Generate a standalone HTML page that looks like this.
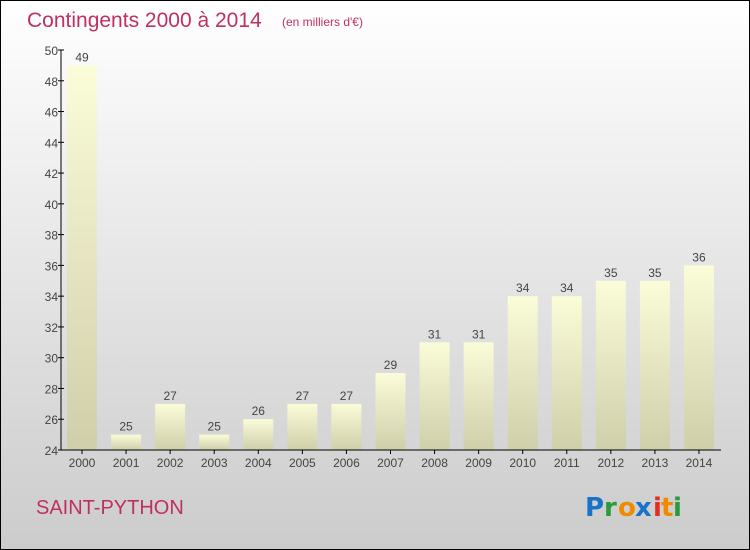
<!DOCTYPE html>
<html><head><meta charset="utf-8"><style>
body{margin:0;}
#wrap{position:relative;width:748px;height:548px;border:1px solid #000;background:linear-gradient(#ffffff,#f2f2f2 25%,#d8d8d8 75%,#cccccc);overflow:hidden;font-family:"Liberation Sans",sans-serif;}
</style></head><body>
<div id="wrap">
<svg width="748" height="548">
<defs><linearGradient id="bg" x1="0" y1="0" x2="0" y2="1"><stop offset="0" stop-color="#fbfcd8"/><stop offset="1" stop-color="#cfcfaa"/></linearGradient></defs>
<text x="26" y="26" font-size="21" fill="#c0305f">Contingents 2000 à 2014</text>
<text x="281" y="25" font-size="12" fill="#c0305f">(en milliers d'€)</text>
<text x="35" y="513" font-size="20" fill="#c0305f">SAINT-PYTHON</text>
<g font-size="26" font-weight="bold" font-family="'DejaVu Sans',sans-serif">
<text x="584" y="515" fill="#1a73c9">P</text><text x="603" y="515" fill="#2a9a3a">r</text><text x="617" y="515" fill="#f08a00">o</text><text x="634" y="515" fill="#1a73c9">x</text><text x="652" y="515" fill="#e03020">i</text><text x="660" y="515" fill="#f08a00">t</text><text x="672" y="515" fill="#2a9a3a">i</text></g>
<g id="plot"></g>
</svg></div>
<script>
const categories=["2000","2001","2002","2003","2004","2005","2006","2007","2008","2009","2010","2011","2012","2013","2014"];
const values=[49,25,27,25,26,27,27,29,31,31,34,34,35,35,36];
const yTicks=[24,26,28,30,32,34,36,38,40,42,44,46,48,50];
const ns="http://www.w3.org/2000/svg";
const g=document.getElementById('plot');
const y0=449,y1=49,vmin=24,vmax=50;
const y=v=>y0-(v-vmin)/(vmax-vmin)*(y0-y1);
const x=i=>81+i*44.07;
function mk(t,a){const e=document.createElementNS(ns,t);for(const k in a)e.setAttribute(k,a[k]);g.appendChild(e);return e;}
categories.forEach((c,i)=>{
const r=mk('rect',{x:x(i)-15,y:y(values[i]),width:30,height:y0-y(values[i]),fill:'url(#bg)'});


const t=mk('text',{x:x(i),y:y(values[i])-4,'font-size':12,fill:'#444','text-anchor':'middle'});t.textContent=values[i];


const l=mk('text',{x:x(i),y:y0+17,'font-size':12,fill:'#444','text-anchor':'middle'});l.textContent=c;


mk('line',{x1:x(i),x2:x(i),y1:y0,y2:y0+4,stroke:'#000'});
});
yTicks.forEach(v=>{
mk('line',{x1:57,x2:63,y1:y(v),y2:y(v),stroke:'#000'});
const t=mk('text',{x:57,y:y(v)+5,'font-size':12,fill:'#444','text-anchor':'end'});t.textContent=v;


});
const ya=mk('line',{x1:60,x2:60,y1:y1,y2:y0,stroke:'#000'});


const xa=mk('line',{x1:60,x2:720,y1:y0,y2:y0,stroke:'#000'});


</script>
</body></html>
